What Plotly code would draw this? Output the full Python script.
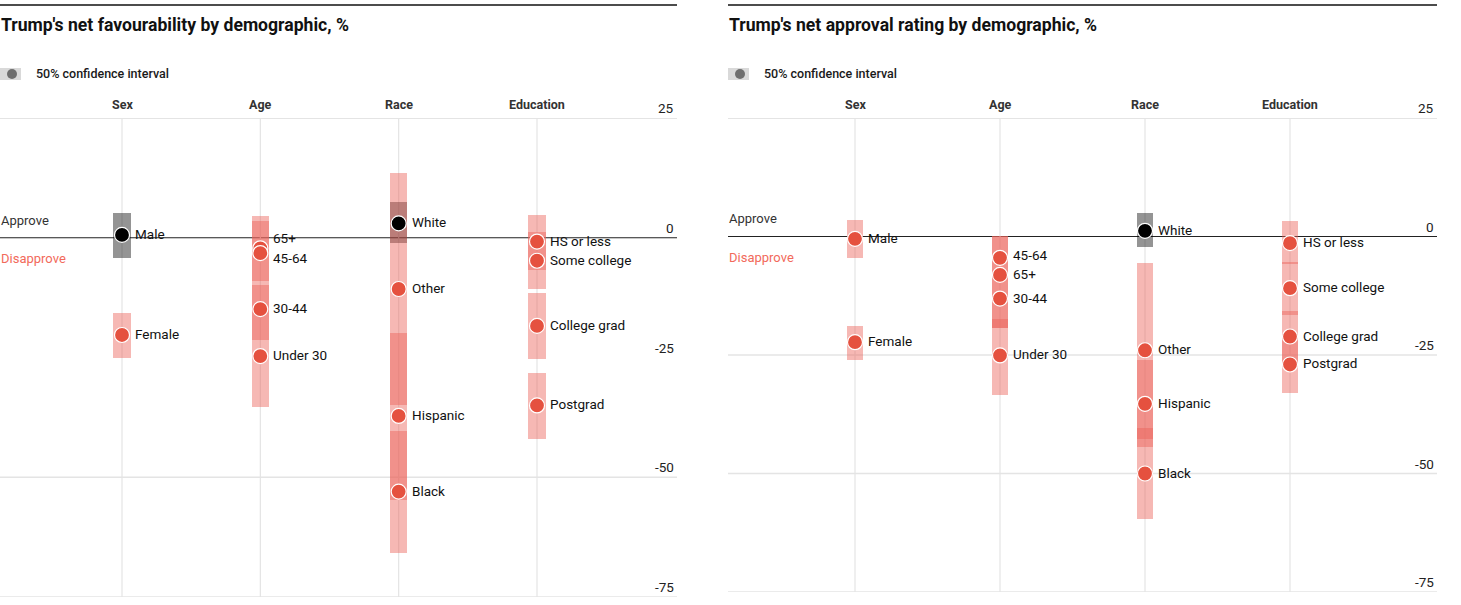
import plotly.graph_objects as go

# ---------------- data ----------------
GROUPS = ["Sex", "Age", "Race", "Education"]
TICK_VALUES = [25, 0, -25, -50, -75]
TICK_LABELS = ["25", "0", "-25", "-50", "-75"]

FAV_TITLE = "Trump's net favourability by demographic, %"
FAV_LABELS = ["Male", "Female", "65+", "45-64", "30-44", "Under 30",
              "White", "Other", "Hispanic", "Black",
              "HS or less", "Some college", "College grad", "Postgrad"]
FAV_GROUP = ["Sex", "Sex", "Age", "Age", "Age", "Age",
             "Race", "Race", "Race", "Race",
             "Education", "Education", "Education", "Education"]
FAV_VALUE = [0.6, -20.3, -2.2, -3.2, -14.9, -24.7,
             3.0, -10.7, -37.2, -53.0,
             -0.8, -4.8, -18.4, -35.0]
FAV_LOW = [-4.2, -25.1, -9.0, -8.4, -21.3, -35.3,
           -1.1, -34.9, -54.8, -65.8,
           -6.7, -10.7, -25.4, -42.1]
FAV_HIGH = [5.2, -15.7, 4.6, 3.5, -8.4, -9.8,
            7.4, 13.6, -19.9, -40.4,
            4.8, 1.1, -11.6, -28.2]

APP_TITLE = "Trump's net approval rating by demographic, %"
APP_LABELS = ["Male", "Female", "45-64", "65+", "30-44", "Under 30",
              "White", "Other", "Hispanic", "Black",
              "HS or less", "Some college", "College grad", "Postgrad"]
APP_GROUP = ["Sex", "Sex", "Age", "Age", "Age", "Age",
             "Race", "Race", "Race", "Race",
             "Education", "Education", "Education", "Education"]
APP_VALUE = [-0.5, -22.3, -4.5, -8.1, -13.1, -25.1,
             1.2, -24.0, -35.3, -50.0,
             -1.4, -10.9, -21.1, -27.0]
APP_LOW = [-4.5, -26.1, -7.0, -19.2, -19.2, -33.4,
           -2.2, -42.7, -44.4, -59.6,
           -5.9, -16.5, -26.5, -33.0]
APP_HIGH = [3.5, -18.8, 0.2, 0.2, -7.0, -17.3,
            5.0, -5.5, -26.1, -40.5,
            3.2, -5.3, -15.7, -21.1]

# ---------------- style ----------------
W, H = 1461, 605
FONT = "Roboto, Liberation Sans, sans-serif"
RED = "#e5513f"
RED_CI = "rgba(236,98,88,0.45)"
GREY_CI = "rgba(0,0,0,0.42)"
DISAPPROVE_COL = "#f26a5b"
GRID = "#e4e4e4"

# label pixel nudges (style only)
NUDGE = {("fav", "65+"): 9, ("fav", "45-64"): -6, ("app", "45-64"): 2}

panels = [
    dict(key="fav", title=FAV_TITLE, labels=FAV_LABELS, group=FAV_GROUP,
         value=FAV_VALUE, low=FAV_LOW, high=FAV_HIGH,
         px0=0, px1=677, py_bottom=597, grid=[25, -50, -75],
         xa="x", ya="y", bw=0.123, appr_y=220, dis_y=258),
    dict(key="app", title=APP_TITLE, labels=APP_LABELS, group=APP_GROUP,
         value=APP_VALUE, low=APP_LOW, high=APP_HIGH,
         px0=728, px1=1437, py_bottom=592, grid=[25, -25, -50, -75],
         xa="x2", ya="y2", bw=0.112, appr_y=219, dis_y=257),
]
COL_PX = {"fav": (122, 537), "app": (855, 1290)}
TOP_PX = 118

fig = go.Figure()
shapes = []
annotations = []


def py(p):
    return 1 - p / H


def px(p):
    return p / W


for pn in panels:
    k = pn["key"]
    c0, c3 = COL_PX[k]
    unit = (c3 - c0) / 3.0
    xr = [-(c0 - pn["px0"]) / unit, 3 + (pn["px1"] - c3) / unit]
    axis_suffix = "" if pn["xa"] == "x" else "2"
    fig.update_layout(**{
        "xaxis" + axis_suffix: dict(domain=[px(pn["px0"]), px(pn["px1"])], range=xr,
                                    showgrid=False, zeroline=False, showticklabels=False,
                                    ticks="", fixedrange=True, anchor=pn["ya"]),
        "yaxis" + axis_suffix: dict(domain=[py(pn["py_bottom"]), py(TOP_PX)], range=[-75, 25],
                                    showgrid=False, zeroline=False, showticklabels=False,
                                    ticks="", fixedrange=True, anchor=pn["xa"]),
    })
    xd = pn["xa"] + " domain"

    # horizontal gridlines
    for g in pn["grid"]:
        shapes.append(dict(type="line", xref=xd, x0=0, x1=1, yref=pn["ya"], y0=g, y1=g,
                           line=dict(color=GRID, width=2 if g == 25 else 1.5), layer="below"))
    # vertical category lines
    for i, _ in enumerate(GROUPS):
        shapes.append(dict(type="line", xref=pn["xa"], x0=i, x1=i, yref=pn["ya"], y0=-75, y1=25,
                           line=dict(color=GRID, width=1.2), layer="below"))
    # zero line
    shapes.append(dict(type="line", xref=xd, x0=0, x1=1, yref=pn["ya"], y0=0, y1=0,
                       line=dict(color="#222", width=1.2), layer="below"))
    # top rule
    shapes.append(dict(type="line", xref="paper", x0=px(pn["px0"]), x1=px(pn["px1"]),
                       yref="paper", y0=py(5), y1=py(5), line=dict(color="#111", width=1.3)))
    # legend swatch
    shapes.append(dict(type="rect", xref="paper", yref="paper",
                       x0=px(pn["px0"]), x1=px(pn["px0"] + 21), y0=py(80), y1=py(68),
                       fillcolor="#d9d9d9", line=dict(width=0)))
    shapes.append(dict(type="circle", xref="paper", yref="paper",
                       x0=px(pn["px0"] + 7), x1=px(pn["px0"] + 17), y0=py(79), y1=py(69),
                       fillcolor="#6e6e6e", line=dict(width=0)))
    annotations.append(dict(text="50% confidence interval", xref="paper", yref="paper",
                            x=px(pn["px0"] + 34), y=py(74), xanchor="left", yanchor="middle",
                            showarrow=False,
                            font=dict(family=FONT, size=12.5, color="#1a1a1a", weight=500)))
    # title
    annotations.append(dict(text=pn["title"], xref="paper", yref="paper",
                            x=px(pn["px0"]) - 0.0007, y=py(25), xanchor="left", yanchor="middle",
                            showarrow=False,
                            font=dict(family=FONT, size=17.6, color="#111", weight=700)))
    # group headers
    for i, g in enumerate(GROUPS):
        annotations.append(dict(text=g, xref=pn["xa"], yref="paper",
                                x=i, y=py(105), xanchor="center", yanchor="middle",
                                showarrow=False,
                                font=dict(family=FONT, size=12.5, color="#333", weight=700)))
    # tick labels
    for tv, tl in zip(TICK_VALUES, TICK_LABELS):
        annotations.append(dict(text=tl, xref=xd, x=1, yref=pn["ya"], y=tv,
                                xanchor="right", yanchor="middle", xshift=-1, yshift=10,
                                showarrow=False, font=dict(family=FONT, size=13.5, color="#222")))
    # approve / disapprove
    annotations.append(dict(text="Approve", xref="paper", yref="paper", x=px(pn["px0"]) - 0.0007,
                            y=py(pn["appr_y"]), xanchor="left", yanchor="middle", showarrow=False,
                            font=dict(family=FONT, size=13, color="#333")))
    annotations.append(dict(text="Disapprove", xref="paper", yref="paper", x=px(pn["px0"]) - 0.0007,
                            y=py(pn["dis_y"]), xanchor="left", yanchor="middle", showarrow=False,
                            font=dict(family=FONT, size=13, color=DISAPPROVE_COL)))

# confidence bars: grey (positive) first, then red
for positive in (True, False):
    for pn in panels:
        for lab, grp, v, lo, hi in zip(pn["labels"], pn["group"], pn["value"], pn["low"], pn["high"]):
            if (v > 0) == positive:
                fig.add_trace(go.Bar(
                    x=[GROUPS.index(grp)], y=[hi - lo], base=[lo], width=pn["bw"],
                    marker=dict(color=GREY_CI if positive else RED_CI, line=dict(width=0)),
                    xaxis=pn["xa"], yaxis=pn["ya"], hoverinfo="skip", showlegend=False))

# dots and labels
for pn in panels:
    xs = [GROUPS.index(g) for g in pn["group"]]
    cols = ["#000000" if v > 0 else RED for v in pn["value"]]
    fig.add_trace(go.Scatter(
        x=xs, y=pn["value"], mode="markers",
        marker=dict(size=15, color=cols, line=dict(color="white", width=1.2)),
        xaxis=pn["xa"], yaxis=pn["ya"], hoverinfo="skip", showlegend=False))
    for lab, x, v in zip(pn["labels"], xs, pn["value"]):
        annotations.append(dict(text=lab, xref=pn["xa"], yref=pn["ya"], x=x, y=v,
                                xanchor="left", yanchor="middle", xshift=11,
                                yshift=NUDGE.get((pn["key"], lab), 0) + 1, showarrow=False,
                                font=dict(family=FONT, size=13.5, color="#111")))

fig.update_layout(
    width=W, height=H,
    margin=dict(l=0, r=0, t=0, b=0),
    paper_bgcolor="white", plot_bgcolor="rgba(0,0,0,0)",
    barmode="overlay", bargap=0,
    showlegend=False,
    shapes=shapes, annotations=annotations,
    font=dict(family=FONT),
)

fig.write_html("out.html", config={"displayModeBar": False, "staticPlot": True},
               post_script="document.body.style.margin='0';document.body.style.overflow='hidden';")
